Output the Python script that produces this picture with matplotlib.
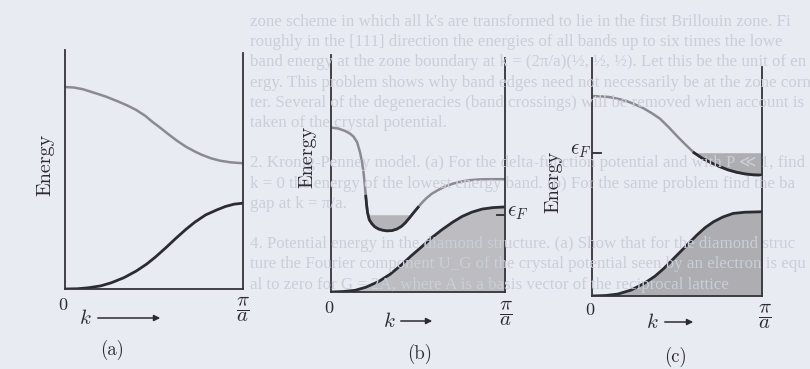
import matplotlib
matplotlib.use('Agg')
import matplotlib.pyplot as plt
from matplotlib.patches import FancyArrowPatch

plt.rcParams['mathtext.fontset'] = 'cm'

# band curves, k in units of pi/a, energy in units of axis height
k_a_low = [0, 0.07, 0.13, 0.2, 0.26, 0.33, 0.40, 0.46, 0.51, 0.57, 0.62, 0.68, 0.73, 0.79,
           0.85, 0.9, 0.95, 1.0]
E_a_low = [0, 0.001, 0.005, 0.013, 0.026, 0.047, 0.075, 0.105, 0.135, 0.175, 0.21, 0.25,
           0.28, 0.31, 0.33, 0.345, 0.355, 0.359]
k_a_up = [0, 0.05, 0.1, 0.16, 0.23, 0.3, 0.35, 0.4, 0.45, 0.49, 0.54, 0.58, 0.63, 0.68,
          0.73, 0.77, 0.82, 0.87, 0.93, 1.0]
E_a_up = [0.845, 0.843, 0.836, 0.822, 0.805, 0.784, 0.768, 0.749, 0.725, 0.700, 0.672,
          0.648, 0.620, 0.595, 0.575, 0.561, 0.547, 0.537, 0.530, 0.526]

k_b_low = [0, 0.07, 0.138, 0.2, 0.273, 0.34, 0.404, 0.46, 0.523, 0.58, 0.638, 0.7, 0.754,
           0.81, 0.869, 0.93, 1.0]
E_b_low = [0, 0.002, 0.007, 0.02, 0.044, 0.075, 0.114, 0.152, 0.192, 0.23, 0.263, 0.295,
           0.319, 0.337, 0.35, 0.356, 0.359]
k_b_up = [0, 0.04, 0.08, 0.11, 0.13, 0.15, 0.167, 0.178, 0.187, 0.194, 0.2, 0.205, 0.21,
          0.22, 0.235, 0.252, 0.273, 0.295, 0.32, 0.35, 0.38, 0.405, 0.427, 0.45, 0.475,
          0.5, 0.523, 0.55, 0.58, 0.62, 0.658, 0.70, 0.754, 0.80, 0.85, 0.92, 1.0]
E_b_up = [0.694, 0.690, 0.680, 0.668, 0.655, 0.632, 0.589, 0.55, 0.504, 0.455, 0.404,
          0.365, 0.335, 0.305, 0.288, 0.275, 0.266, 0.261, 0.258, 0.259, 0.266, 0.277,
          0.292, 0.312, 0.335, 0.357, 0.377, 0.397, 0.415, 0.432, 0.446, 0.457, 0.467,
          0.472, 0.475, 0.476, 0.476]
Ef_b = 0.326

k_c_low = [0, 0.08, 0.151, 0.23, 0.307, 0.37, 0.423, 0.47, 0.52, 0.57, 0.617, 0.665,
           0.715, 0.77, 0.83, 0.9, 1.0]
E_c_low = [0, 0.002, 0.008, 0.025, 0.053, 0.083, 0.116, 0.15, 0.186, 0.222, 0.256, 0.287,
           0.312, 0.332, 0.347, 0.352, 0.354]
k_c_up = [0, 0.05, 0.1, 0.15, 0.2, 0.25, 0.3, 0.35, 0.4, 0.45, 0.5, 0.55, 0.6, 0.65, 0.7,
          0.75, 0.8, 0.85, 0.9, 0.95, 1.0]
E_c_up = [0.840, 0.839, 0.836, 0.829, 0.820, 0.806, 0.790, 0.769, 0.745, 0.710, 0.672,
          0.636, 0.602, 0.578, 0.560, 0.544, 0.530, 0.520, 0.513, 0.509, 0.508]
Ef_c = 0.602

panel_labels = ['(a)', '(b)', '(c)']

# faint page text showing through the scan (visible parts only)
page_lines = [
    "zone scheme in which all k's are transformed to lie in the first Brillouin zone. Fi",
    "roughly in the [111] direction the energies of all bands up to six times the lowe",
    "band energy at the zone boundary at k = (2π/a)(½, ½, ½). Let this be the unit of en",
    "ergy. This problem shows why band edges need not necessarily be at the zone corn",
    "ter. Several of the degeneracies (band crossings) will be removed when account is",
    "taken of the crystal potential.",
    "",
    "2. Kronig-Penney model. (a) For the delta-function potential and with P ≪ 1, find",
    "k = 0 the energy of the lowest energy band. (b) For the same problem find the ba",
    "gap at k = π/a.",
    "",
    "4. Potential energy in the diamond structure. (a) Show that for the diamond struc",
    "ture the Fourier component U_G of the crystal potential seen by an electron is equ",
    "al to zero for G = 2A, where A is a basis vector of the reciprocal lattice",
]

W, H = 810, 369
bg = '#e8ebf2'
dark = '#2b2b33'
light = '#8a8a92'

fig = plt.figure(figsize=(8.1, 3.69), dpi=100, facecolor=bg)

def px(x, y):
    return x / W, 1 - y / H

for i, line in enumerate(page_lines):
    fig.text(*px(250, 22 + 20.2 * i), line, fontsize=12.2, color='#cbced8',
             family=['Liberation Serif', 'DejaVu Sans'], va='center', ha='left',
             zorder=0)

# axes boxes: left, bottom spine, right, top of left spine (pixels)
boxes = [(65, 289, 243, 50), (331, 292, 505, 55), (592, 296, 762, 58)]
right_top = [0.987, 0.987, 0.962]
axs = []
for (l, b, r, t), rt in zip(boxes, right_top):
    ax = fig.add_axes([l / W, 1 - b / H, (r - l) / W, (b - t) / H])
    ax.set_xlim(0, 1)
    ax.set_ylim(0, 1)
    ax.patch.set_visible(False)
    ax.set_xticks([])
    ax.set_yticks([])
    ax.spines['top'].set_visible(False)
    ax.spines['left'].set_bounds(0, 1)
    ax.spines['right'].set_bounds(0, rt)
    for s in ['left', 'right', 'bottom']:
        ax.spines[s].set_color('#333338')
        ax.spines[s].set_linewidth(1.3)
    axs.append(ax)

ax_a, ax_b, ax_c = axs

# (a) insulator
ax_a.plot(k_a_up, E_a_up, color=light, lw=1.8)
ax_a.plot(k_a_low, E_a_low, color=dark, lw=2)

# (b) band overlap
ax_b.fill_between(k_b_low, 0, E_b_low, color='#bcbcc1', lw=0)
ax_b.fill_between(k_b_up, E_b_up, Ef_b, where=[e <= Ef_b for e in E_b_up],
                  interpolate=True, color='#b4b4b9', lw=0)
ax_b.plot(k_b_up, E_b_up, color=light, lw=1.8)
dk = [k for k, e in zip(k_b_up, E_b_up) if 0.2 <= k <= 0.5]
de = [e for k, e in zip(k_b_up, E_b_up) if 0.2 <= k <= 0.5]
ax_b.plot(dk, de, color=dark, lw=2)
ax_b.plot(k_b_low, E_b_low, color=dark, lw=2)
ax_b.plot([0.955, 1.0], [Ef_b, Ef_b], color=dark, lw=1.3)

# (c) partly filled upper band
ax_c.fill_between(k_c_low, 0, E_c_low, color='#adadb2', lw=0)
ax_c.fill_between(k_c_up, E_c_up, Ef_c, where=[e <= Ef_c for e in E_c_up],
                  interpolate=True, color='#adadb2', lw=0)
ax_c.plot(k_c_up, E_c_up, color=light, lw=1.8)
ax_c.plot(k_c_up[12:], E_c_up[12:], color=dark, lw=2)
ax_c.plot(k_c_low, E_c_low, color=dark, lw=2)
ax_c.plot([0, 0.055], [Ef_c, Ef_c], color=dark, lw=1.3)

# labels (pixel positions)
energy_pos = [(45, 165), (307, 157), (553, 182)]
zero_pos = [(63, 305), (329, 308), (590, 310)]
pia_pos = [(243, 309), (506, 313), (765, 316)]
k_pos = [(85, 318), (389, 321), (652, 322)]
arrows = [(95, 163), (398, 435), (662, 696)]
lab_pos = [(112, 350), (420, 354), (676, 357)]

txt = dict(color='#2b2b33', ha='center', va='center')
for j in range(3):
    fig.text(*px(*energy_pos[j]), 'Energy', rotation=90, fontsize=14.5,
             family=['cmr10', 'DejaVu Serif'], **txt)
    fig.text(*px(*zero_pos[j]), '0', fontsize=13, family=['cmr10', 'DejaVu Serif'], **txt)
    fig.text(*px(*pia_pos[j]), r'$\dfrac{\pi}{a}$', fontsize=15, **txt)
    fig.text(*px(*k_pos[j]), r'$k$', fontsize=15, **txt)
    y = k_pos[j][1]
    fig.add_artist(FancyArrowPatch(
        px(arrows[j][0], y), px(arrows[j][1], y), transform=fig.transFigure,
        arrowstyle='-|>', mutation_scale=9, lw=1.1, color='#2b2b33'))
    fig.text(*px(*lab_pos[j]), panel_labels[j], fontsize=13.5,
             family=['cmr10', 'DejaVu Serif'], **txt)

fig.text(*px(518, 212), r'$\epsilon_F$', fontsize=15, **txt)
fig.text(*px(581, 150), r'$\epsilon_F$', fontsize=15, **txt)

fig.savefig('out.png', dpi=100, facecolor=bg)
